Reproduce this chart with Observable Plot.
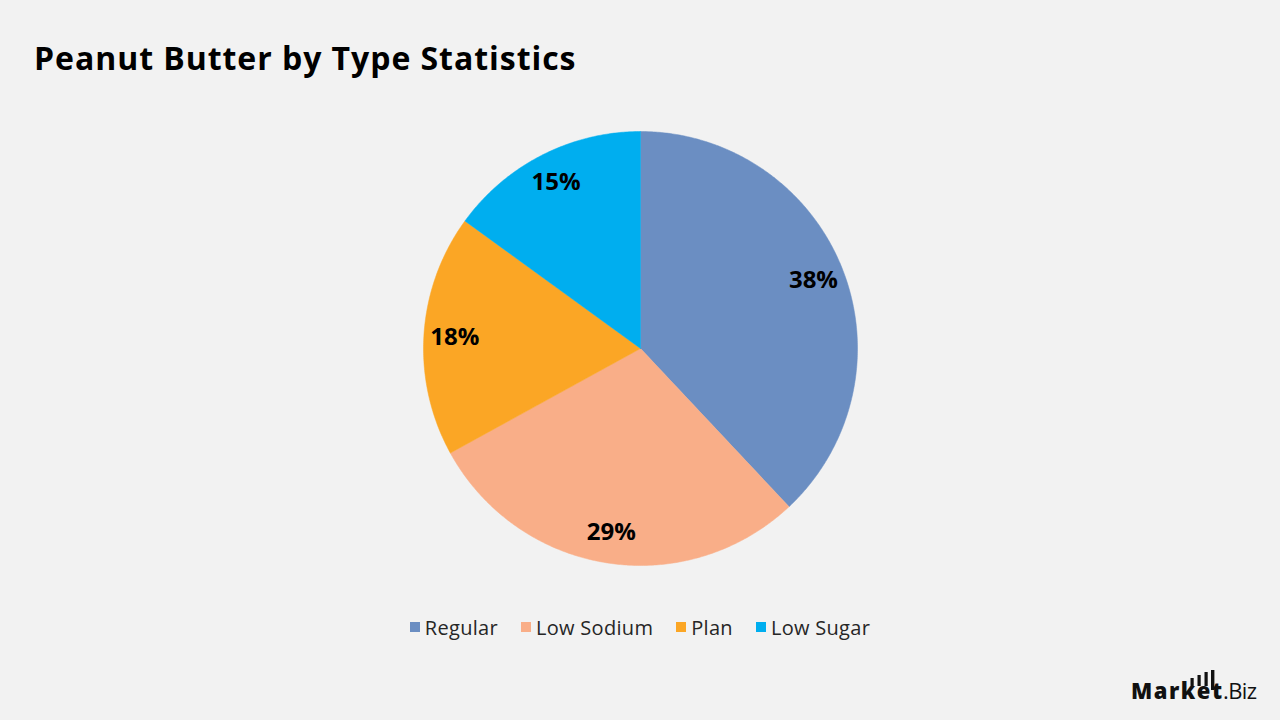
<!DOCTYPE html>
<html>
<head>
<meta charset="utf-8">
<script src="https://cdn.jsdelivr.net/npm/d3@7"></script>
<script src="https://cdn.jsdelivr.net/npm/@observablehq/plot@0.6"></script>
<style>
  html, body { margin: 0; padding: 0; background: #f2f2f2; }
  #page { position: relative; width: 1280px; height: 720px; overflow: hidden; font-family: "Open Sans", sans-serif; }
  #title { position: absolute; left: 34px; top: 36px; font-size: 32px; font-weight: 700; color: #000; white-space: nowrap; letter-spacing: 0.95px; }
  #chart { position: absolute; left: 0; top: 108px; }
  #legend { position: absolute; left: 0; top: 612px; width: 1280px; display: flex; justify-content: center; }
  #legend .pie-swatches { font-family: "Open Sans", sans-serif !important; font-size: 20px !important; letter-spacing: 0.3px; color: #262626 !important; min-height: 30px !important; justify-content: center; margin: 0 !important; }
  #legend .pie-swatch { margin-right: 23px !important; }
  #legend .pie-swatch:last-child { margin-right: 0 !important; }
  #legend .pie-swatch > svg { margin-right: 5px !important; }
  #logo { position: absolute; left: 0; top: 0; }
</style>
</head>
<body>
<div id="page">
  <div id="title">Peanut Butter by Type Statistics</div>
  <div id="chart"></div>
  <div id="legend"></div>
  <svg id="logo" width="1280" height="720" style="pointer-events:none">
    <g fill="#111">
      <rect x="1190.5" y="678" width="3.2" height="8"/>
      <rect x="1197.5" y="675" width="3.2" height="11"/>
      <rect x="1204.5" y="672" width="3.2" height="14"/>
      <rect x="1211" y="670" width="3.4" height="20"/>
    </g>
    <text x="1131" y="699" font-family="Open Sans, sans-serif" font-size="22" font-weight="800" fill="#111" textLength="91" lengthAdjust="spacing">Market</text>
    <text x="1223" y="699" font-family="Open Sans, sans-serif" font-size="22" font-weight="400" fill="#111" textLength="34" lengthAdjust="spacing">.Biz</text>
  </svg>
</div>
<script>
// Market share by peanut butter type (percent), clockwise from 12 o'clock
const types = ["Regular", "Low Sodium", "Plan", "Low Sugar"];
const shares = [38, 29, 18, 15];
const colors = ["#6b8ec2", "#f9ae88", "#fba625", "#00aeef"];

const R = 217;          // pie radius in layout units (1 unit = 1px)
const labelR = 186;     // radius at which percentage labels sit
const W = 1280, H = 480;

const rows = types.map((type, i) => ({type, share: shares[i]}));
const arcs = d3.pie().sort(null).value(d => d.share)(rows);

// Outline of each slice: centre, then along the arc, back to centre
const outline = arcs.flatMap(a => {
  const pts = [{type: a.data.type, x: 0, y: 0}];
  const n = Math.max(2, Math.ceil((a.endAngle - a.startAngle) / (Math.PI / 360)));
  for (let k = 0; k <= n; ++k) {
    const t = a.startAngle + (a.endAngle - a.startAngle) * k / n;
    pts.push({type: a.data.type, x: R * Math.sin(t), y: R * Math.cos(t)});
  }
  pts.push({type: a.data.type, x: 0, y: 0});
  return pts;
});

const labels = arcs.map(a => {
  const m = (a.startAngle + a.endAngle) / 2;
  return {type: a.data.type, share: a.data.share, x: labelR * Math.sin(m), y: labelR * Math.cos(m)};
});

const chart = Plot.plot({
  width: W,
  height: H,
  margin: 0,
  style: {background: "transparent", overflow: "visible"},
  x: {domain: [-W / 2, W / 2], range: [0, W], axis: null},
  y: {domain: [-H / 2, H / 2], range: [H, 0], axis: null},
  color: {domain: types, range: colors},
  marks: [
    Plot.line(outline, {x: "x", y: "y", z: "type", fill: "type", stroke: "type", strokeWidth: 0.5}),
    Plot.text(labels, {
      x: "x", y: "y",
      text: d => `${d.share}%`,
      fill: "#000",
      fontSize: 24,
      fontWeight: 700,
      fontFamily: "Open Sans, sans-serif"
    })
  ]
});
document.getElementById("chart").append(chart);

const legend = Plot.legend({
  color: {domain: types, range: colors},
  legend: "swatches",
  swatchSize: 10,
  className: "pie"
});
document.getElementById("legend").append(legend);
</script>
</body>
</html>
